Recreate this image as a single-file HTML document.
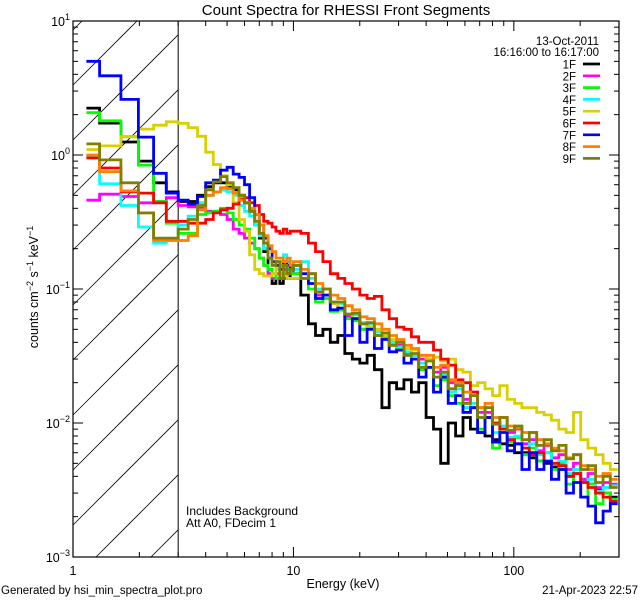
<!DOCTYPE html>
<html><head><meta charset="utf-8">
<style>
html,body{margin:0;padding:0;background:#fff;width:640px;height:600px;overflow:hidden;}
svg{display:block;font-family:"Liberation Sans",sans-serif;}
</style></head>
<body>
<svg id="chart" width="640" height="600" viewBox="0 0 640 600" xmlns="http://www.w3.org/2000/svg" overflow="hidden">
<rect x="0" y="0" width="640" height="600" fill="#fff"/>
<text x="346" y="15" font-size="15" text-anchor="middle">Count Spectra for RHESSI Front Segments</text>
<g id="hatch"></g>
<g id="series"></g>
<g id="axes"></g>
<g id="legend"></g>
<text x="343" y="588" font-size="12.5" text-anchor="middle">Energy (keV)</text>
<text transform="translate(38,287) rotate(-90)" font-size="12.5" text-anchor="middle">counts cm<tspan dy="-5" font-size="9">−2</tspan><tspan dy="5"> s</tspan><tspan dy="-5" font-size="9">−1</tspan><tspan dy="5"> keV</tspan><tspan dy="-5" font-size="9">−1</tspan></text>
<text x="186" y="515" font-size="12">Includes Background</text>
<text x="186" y="527" font-size="12">Att A0, FDecim 1</text>
<text x="1" y="594" font-size="11.5">Generated by hsi_min_spectra_plot.pro</text>
<text x="638" y="594" font-size="11.5" text-anchor="end">21-Apr-2023 22:57</text>
</svg>
<script>
const edges=[1.15,1.32,1.65,1.98,2.32,2.65,3.0,3.33,3.67,4,4.33,4.67,5,5.33,5.67,6,6.33,6.67,7,7.33,7.67,8,8.33,8.67,9,9.33,9.67,10,10.8,11.7,12.6,13.6,14.7,15.9,17.1,18.5,20,21.6,23.3,25.2,27.2,29.4,31.7,34.3,37,40,43.2,46.6,50.4,54.4,58.8,63.5,68.5,74,80,86.4,93.3,100.8,108.8,117.5,127,137,148,160,172.7,186.5,201,217,235,254,274,296];
const seriesNames=["1F","2F","3F","4F","5F","6F","7F","8F","9F"];
const seriesColors=["#000000","#ff00ff","#00ff00","#00ffff","#d8d000","#ff0000","#0000ff","#ff8000","#808000"];
const s1F=[2.24,1.73,1.25,0.9,0.62,0.53, 0.45,0.45,0.5,0.58,0.62,0.62,0.58,0.55,0.5,0.44,0.38,0.3,0.24,0.19,0.14,0.11,0.12,0.11,0.12,0.13,0.12,
0.12,0.09,0.055,0.045,0.05,0.04,0.045,0.033,0.03,0.028,0.032,0.025,0.013,0.02,0.018,0.021,0.017,0.02,0.011,0.009,0.005,0.01,0.008,0.011,0.009,0.0085,0.008,0.0075,0.007,0.0068,0.006,0.006,0.0055,0.0052,0.005,0.0047,0.0045,0.004,0.0042,0.0038,0.0035,0.0032,0.003,0.0028];
const s2F=[0.46,0.51,0.49,0.44,0.45,0.48, 0.42,0.41,0.4,0.38,0.38,0.36,0.33,0.28,0.26,0.24,0.22,0.2,0.17,0.15,0.13,0.12,0.13,0.12,0.14,0.13,0.14,
0.13,0.12,0.11,0.09,0.09,0.078,0.07,0.062,0.06,0.05,0.052,0.045,0.043,0.04,0.038,0.033,0.032,0.03,0.03,0.024,0.026,0.02,0.019,0.015,0.017,0.012,0.012,0.01,0.011,0.0085,0.009,0.007,0.0075,0.0062,0.0068,0.0055,0.0058,0.0045,0.005,0.0038,0.0042,0.0033,0.0036,0.0035];
const s3F=[2.07,1.8,1.37,0.84,0.45,0.31, 0.26,0.26,0.36,0.37,0.38,0.4,0.37,0.33,0.3,0.28,0.24,0.2,0.17,0.15,0.14,0.13,0.12,0.12,0.13,0.14,0.13,
0.13,0.12,0.1,0.08,0.085,0.068,0.07,0.06,0.058,0.05,0.052,0.045,0.044,0.038,0.036,0.032,0.03,0.025,0.026,0.019,0.021,0.016,0.014,0.012,0.013,0.009,0.011,0.0065,0.009,0.0072,0.0078,0.0058,0.0065,0.0052,0.006,0.0045,0.005,0.0035,0.0042,0.0028,0.0035,0.0025,0.003,0.0027];
const s4F=[0.98,0.61,0.42,0.29,0.22,0.23, 0.3,0.35,0.44,0.5,0.53,0.55,0.53,0.5,0.42,0.38,0.35,0.3,0.25,0.2,0.17,0.15,0.14,0.16,0.18,0.16,0.15,
0.14,0.16,0.12,0.1,0.09,0.08,0.078,0.065,0.064,0.056,0.055,0.048,0.045,0.04,0.037,0.034,0.032,0.028,0.026,0.022,0.023,0.017,0.018,0.013,0.014,0.011,0.011,0.0085,0.0095,0.0078,0.008,0.0065,0.007,0.0058,0.006,0.005,0.0052,0.0042,0.0045,0.0036,0.0038,0.0031,0.0033,0.0034];
const s5F=[1.1,1.17,1.37,1.56,1.67,1.77, 1.72,1.6,1.38,1.05,0.85,0.7,0.6,0.44,0.33,0.27,0.18,0.14,0.13,0.125,0.125,0.13,0.15,0.13,0.13,0.12,0.12,
0.12,0.12,0.11,0.085,0.09,0.078,0.072,0.065,0.06,0.055,0.052,0.05,0.045,0.042,0.04,0.036,0.035,0.032,0.03,0.031,0.029,0.03,0.025,0.024,0.019,0.02,0.018,0.016,0.019,0.015,0.014,0.013,0.013,0.012,0.0115,0.0105,0.009,0.0085,0.012,0.0075,0.0065,0.0058,0.005,0.0045];
const s6F=[0.95,0.8,0.53,0.52,0.44,0.32, 0.32,0.31,0.31,0.33,0.37,0.39,0.4,0.43,0.47,0.48,0.44,0.42,0.36,0.32,0.31,0.29,0.27,0.26,0.28,0.26,0.27,
0.27,0.26,0.22,0.19,0.16,0.13,0.12,0.11,0.1,0.09,0.085,0.088,0.07,0.06,0.052,0.05,0.044,0.04,0.04,0.035,0.03,0.027,0.021,0.02,0.017,0.013,0.011,0.01,0.009,0.0075,0.007,0.0065,0.0058,0.006,0.0052,0.005,0.0048,0.004,0.0042,0.0036,0.0033,0.003,0.0028,0.0026];
const s7F=[5.0,3.9,2.6,1.36,0.73,0.52, 0.46,0.43,0.49,0.62,0.65,0.77,0.81,0.72,0.68,0.6,0.48,0.36,0.3,0.24,0.2,0.16,0.15,0.14,0.16,0.15,0.14,
0.15,0.13,0.11,0.085,0.09,0.07,0.072,0.045,0.06,0.04,0.05,0.036,0.042,0.034,0.035,0.028,0.03,0.022,0.026,0.017,0.022,0.014,0.016,0.012,0.013,0.0085,0.011,0.0072,0.0085,0.0062,0.007,0.0045,0.006,0.0045,0.0052,0.0038,0.0045,0.003,0.0036,0.0028,0.0024,0.0018,0.0022,0.0025];
const s8F=[1.0,0.75,0.54,0.37,0.23,0.23, 0.23,0.25,0.39,0.5,0.53,0.57,0.56,0.52,0.46,0.44,0.4,0.36,0.3,0.25,0.21,0.19,0.17,0.17,0.16,0.17,0.15,
0.16,0.14,0.13,0.11,0.1,0.09,0.085,0.075,0.07,0.062,0.06,0.055,0.05,0.045,0.042,0.038,0.036,0.032,0.032,0.026,0.027,0.021,0.02,0.017,0.016,0.013,0.014,0.011,0.011,0.0095,0.0092,0.0085,0.0085,0.0075,0.007,0.0065,0.0062,0.0055,0.0058,0.0048,0.0045,0.004,0.0042,0.0038];
const s9F=[1.21,0.92,0.62,0.37,0.24,0.24, 0.28,0.33,0.42,0.55,0.63,0.69,0.62,0.57,0.5,0.44,0.38,0.32,0.26,0.22,0.17,0.15,0.16,0.12,0.15,0.13,0.14,
0.15,0.12,0.13,0.095,0.1,0.08,0.08,0.065,0.066,0.055,0.056,0.045,0.047,0.038,0.04,0.032,0.033,0.026,0.029,0.022,0.024,0.018,0.019,0.014,0.016,0.011,0.013,0.0098,0.011,0.0088,0.0095,0.0075,0.0085,0.0068,0.0075,0.0062,0.0068,0.0054,0.0058,0.0045,0.0048,0.0036,0.004,0.0033];
const seriesValues=[s1F,s2F,s3F,s4F,s5F,s6F,s7F,s8F,s9F];
const xMajorTicks=[1,10,100];
const xMajorLabels=["1","10","100"];
const yMajorTicks=[1e-3,1e-2,1e-1,1,10];
const yExpLabels=["−3","−2","−1","0","1"];

const NS="http://www.w3.org/2000/svg";
const L=73,R=619,T=21,B=557;
const XMIN=1,XMAX=300,YMIN=1e-3,YMAX=10;
function xs(v){return L+(Math.log10(v)-Math.log10(XMIN))/(Math.log10(XMAX)-Math.log10(XMIN))*(R-L);}
function ys(v){return B-(Math.log10(v)-Math.log10(YMIN))/(Math.log10(YMAX)-Math.log10(YMIN))*(B-T);}
function mk(tag,attrs,parent){const e=document.createElementNS(NS,tag);for(const k in attrs)e.setAttribute(k,attrs[k]);parent.appendChild(e);return e;}

const defs=mk('defs',{},document.getElementById('chart'));
const cp=mk('clipPath',{id:'plotclip'},defs);
mk('rect',{x:L,y:T,width:R-L,height:B-T},cp);

const hg=document.getElementById('hatch');
const xh=xs(3);
for(let c=30;c<B+(xh-L);c+=55){
  // line: y = c - (x-L), limited to [L,xh] x [T,B]
  const xa=Math.max(L, L+c-B), xb=Math.min(xh, L+c-T);
  if(xb<=xa) continue;
  const ln=mk('line',{x1:xa,y1:c-(xa-L),x2:xb,y2:c-(xb-L),stroke:'#000','stroke-width':0.8},hg);
  
  
}
const vl=mk('line',{x1:xh,y1:T,x2:xh,y2:B,stroke:'#000','stroke-width':1},hg);



const sg=document.getElementById('series');
sg.setAttribute('clip-path','url(#plotclip)');
seriesValues.forEach((vals,si)=>{
  let pts=[];
  for(let i=0;i<vals.length;i++){
    const y=Math.min(B,Math.max(T,ys(vals[i])));
    pts.push(xs(edges[i]).toFixed(1)+','+y.toFixed(1));
    pts.push(Math.min(R,xs(edges[i+1])).toFixed(1)+','+y.toFixed(1));
  }
  const pl=mk('polyline',{points:pts.join(' '),fill:'none',stroke:seriesColors[si],'stroke-width':2.8,'stroke-linejoin':'miter'},sg);
  
  
});

const ag=document.getElementById('axes');
const fr=mk('rect',{x:L,y:T,width:R-L,height:B-T,fill:'none',stroke:'#000','stroke-width':1.2},ag);


for(let d=0;d<=2;d++){
  for(let m=1;m<=9;m++){
    const v=m*Math.pow(10,d); if(v>XMAX)break;
    const x=xs(v), len=(m===1)?10:5;
    const t1=mk('line',{x1:x,y1:B,x2:x,y2:B-len,stroke:'#000','stroke-width':1},ag);
    
    
    const t2=mk('line',{x1:x,y1:T,x2:x,y2:T+len,stroke:'#000','stroke-width':1},ag);
    
    
  }
}
xMajorTicks.forEach((v,i)=>{
  const t=mk('text',{x:xs(v),y:575,'font-size':12.5,'text-anchor':'middle'},ag);
  t.textContent=xMajorLabels[i];
  
  
});
for(let d=-3;d<=0;d++){
  for(let m=1;m<=10;m++){
    const v=m*Math.pow(10,d); if(v>YMAX)break;
    const y=ys(v), len=(m===1||m===10)?10:5;
    const t1=mk('line',{x1:L,y1:y,x2:L+len,y2:y,stroke:'#000','stroke-width':1},ag);
    
    
    const t2=mk('line',{x1:R,y1:y,x2:R-len,y2:y,stroke:'#000','stroke-width':1},ag);
    
    
  }
}
yMajorTicks.forEach((v,i)=>{
  const t=mk('text',{x:70,y:ys(v)+5,'font-size':12.5,'text-anchor':'end'},ag);
  
  
  t.textContent='10';
  const sp=mk('tspan',{dy:-6,'font-size':9},t);
  sp.textContent=yExpLabels[i];
});

const lg=document.getElementById('legend');
const d1=mk('text',{x:599,y:45,'font-size':11.5,'text-anchor':'end'},lg);
d1.textContent='13-Oct-2011';


const d2=mk('text',{x:599,y:56,'font-size':11.5,'text-anchor':'end'},lg);
d2.textContent='16:16:00 to 16:17:00';


seriesNames.forEach((n,i)=>{
  const y=64+i*11.8;
  const t=mk('text',{x:576,y:y+4.5,'font-size':11.5,'text-anchor':'end'},lg);
  t.textContent=n;
  
  
  const l=mk('line',{x1:583,y1:y,x2:600,y2:y,stroke:seriesColors[i],'stroke-width':2.7},lg);
  
  
});
</script>
</body></html>
